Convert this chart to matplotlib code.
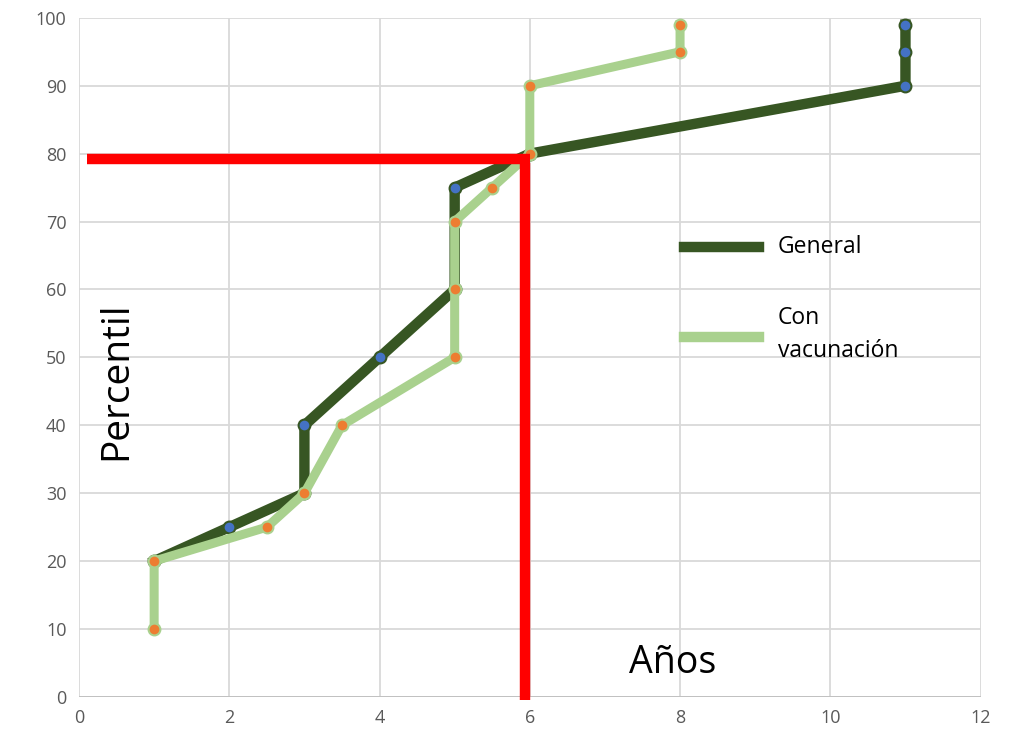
import matplotlib.pyplot as plt

# Datos
general_x = [1, 2, 3, 3, 4, 5, 5, 6, 11, 11, 11]
general_y = [20, 25, 30, 40, 50, 60, 75, 80, 90, 95, 99]

vacuna_x = [1, 1, 2.5, 3, 3.5, 5, 5, 5, 5.5, 6, 6, 8, 8]
vacuna_y = [10, 20, 25, 30, 40, 50, 60, 70, 75, 80, 90, 95, 99]

# Líneas rojas de referencia
ref_h_x = [0.1, 6.0]
ref_h_y = [79.2, 79.2]
ref_v_x = [5.94, 5.94]
ref_v_y = [-0.5, 78.6]

xticks = [0, 2, 4, 6, 8, 10, 12]
yticks = [0, 10, 20, 30, 40, 50, 60, 70, 80, 90, 100]

plt.rcParams['font.family'] = ['Open Sans', 'DejaVu Sans']

fig = plt.figure(figsize=(10.13, 7.43), dpi=100)
ax = fig.add_axes([0.078, 0.062, 0.890, 0.914])

dark = '#375623'
light = '#a9d18e'

ax.plot(general_x, general_y, color=dark, lw=7.5, marker='o', ms=8.5,
        mfc='#4472c4', mec=dark, mew=1.5, zorder=3, solid_joinstyle='round')
ax.plot(vacuna_x, vacuna_y, color=light, lw=6.5, marker='o', ms=8.5,
        mfc='#ed7d31', mec=light, mew=1.5, zorder=4, solid_joinstyle='round')

ax.plot(ref_h_x, ref_h_y, color='#ff0000', lw=7.5, zorder=5, solid_capstyle='butt')
ax.plot(ref_v_x, ref_v_y, color='#ff0000', lw=7.5, zorder=5, solid_capstyle='butt',
        clip_on=False)

ax.set_xlim(0, 12)
ax.set_ylim(0, 100)
ax.set_xticks(xticks)
ax.set_yticks(yticks)
ax.grid(True, color='#d9d9d9', lw=1.3)
ax.set_axisbelow(True)
for s in ax.spines.values():
    s.set_visible(False)
ax.axhline(0, color='#bfbfbf', lw=1.3, zorder=1)
ax.tick_params(length=0, labelsize=13, labelcolor='#595959', pad=9)

# Leyenda manual
ax.plot([8.05, 9.05], [66.3, 66.3], color=dark, lw=7.5, zorder=6)
ax.plot([8.05, 9.05], [53.0, 53.0], color=light, lw=7.5, zorder=6)
ax.text(9.3, 66.3, 'General', fontsize=16.5, va='center', ha='left', color='black')
ax.text(9.3, 53.3, 'Con\nvacunación', fontsize=16.5, va='center', ha='left',
        color='black', linespacing=1.5)

ax.text(0.5, 46.5, 'Percentil', fontsize=28, rotation=90, va='center', ha='center')
ax.text(7.9, 5.0, 'Años', fontsize=27, va='center', ha='center')

fig.savefig('out.png', dpi=100)
